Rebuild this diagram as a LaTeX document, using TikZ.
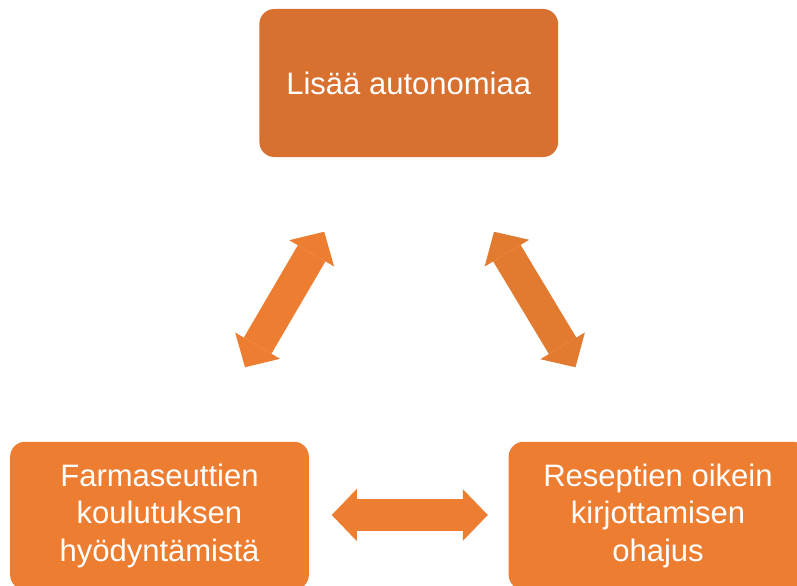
\documentclass[tikz,border=0pt]{standalone}
\usepackage{fontspec}
\setmainfont{Liberation Sans}
\usepackage{tikz}
\usetikzlibrary{arrows.meta}
\pgfdeclarelayer{bg}
\pgfsetlayers{bg,main}
\definecolor{darkorange}{HTML}{D87130}
\definecolor{lightorange}{HTML}{ED7D31}
\definecolor{midorange}{HTML}{E27A2F}
\tikzset{
    box/.style={rectangle, rounded corners=0.6cm, minimum width=11.95cm, minimum height=5.92cm,
        inner sep=0mm, align=center, text=white, font=\fontsize{35.3}{42.7}\selectfont}
}
\tikzset{
    link/.style={line width=1.28cm,
        {Triangle[length=1cm, width=2.08cm, line width=0pt]}-{Triangle[length=1cm, width=2.08cm, line width=0pt]}}
}

\begin{document}
\begin{tikzpicture}
    \useasboundingbox (0cm, 0cm) rectangle (31.88cm, -23.44cm);
    \clip (0cm, 0cm) rectangle (31.88cm, -23.44cm);

    \node (aut) [box, fill=darkorange] at (16.35cm, -3.32cm) {Lisää autonomiaa};
    \node (far) [box, fill=lightorange] at (6.38cm, -20.63cm) {Farmaseuttien\\koulutuksen\\hyödyntämistä};
    \node (res) [box, fill=lightorange] at (26.32cm, -20.63cm) {Reseptien oikein\\kirjottamisen\\ohajus};

    \coordinate (l1) at (9.80cm, -14.69cm);
    \coordinate (l2) at (12.97cm, -9.27cm);
    \coordinate (r1) at (19.76cm, -9.27cm);
    \coordinate (r2) at (23.02cm, -14.69cm);
    \coordinate (b1) at (13.27cm, -20.60cm);
    \coordinate (b2) at (19.51cm, -20.60cm);

    \begin{pgfonlayer}{bg}
        \draw [link, lightorange] (l1) -- (l2);
        \draw [link, midorange] (r1) -- (r2);
        \draw [link, lightorange] (b1) -- (b2);
    \end{pgfonlayer}
\end{tikzpicture}
\end{document}
